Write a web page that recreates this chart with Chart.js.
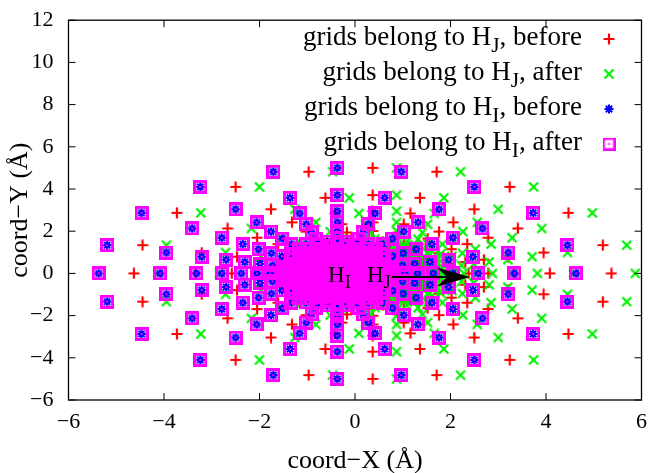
<!DOCTYPE html>
<html>
<head>
<meta charset="utf-8">
<title>grids of H_I and H_J</title>
<script src="https://cdn.jsdelivr.net/npm/chart.js@4.4.0/dist/chart.umd.min.js"></script>
<style>
  html, body { margin: 0; padding: 0; background: #fff; }
  #wrap { width: 651px; height: 473px; }
</style>
</head>
<body>
<div id="wrap"><canvas id="gridChart" width="651" height="473"></canvas></div>
<script>
// grid points, one row per radial shell (20 points each);
// the last ten rows are the packed points inside the solid core, estimated
const gridY = [
  [0, 1.34, 2.87, 4.10, 4.82, 5.00, 4.82, 4.10, 2.87, 1.34, 0, -1.34, -2.87, -4.10, -4.82, -5.00, -4.82, -4.10, -2.87, -1.34],
  [0, 0.99, 2.13, 3.04, 3.58, 3.71, 3.58, 3.04, 2.13, 0.99, 0, -0.99, -2.13, -3.04, -3.58, -3.71, -3.58, -3.04, -2.13, -0.99],
  [0, 0.79, 1.69, 2.42, 2.84, 2.95, 2.84, 2.42, 1.69, 0.79, 0, -0.79, -1.69, -2.42, -2.84, -2.95, -2.84, -2.42, -1.69, -0.79],
  [0, 0.65, 1.39, 1.98, 2.33, 2.42, 2.33, 1.98, 1.39, 0.65, 0, -0.65, -1.39, -1.98, -2.33, -2.42, -2.33, -1.98, -1.39, -0.65],
  [0, 0.54, 1.15, 1.65, 1.94, 2.01, 1.94, 1.65, 1.15, 0.54, 0, -0.54, -1.15, -1.65, -1.94, -2.01, -1.94, -1.65, -1.15, -0.54],
  [0, 0.45, 0.96, 1.38, 1.62, 1.68, 1.62, 1.38, 0.96, 0.45, 0, -0.45, -0.96, -1.38, -1.62, -1.68, -1.62, -1.38, -0.96, -0.45],
  [0, 0.38, 0.81, 1.16, 1.36, 1.41, 1.36, 1.16, 0.81, 0.38, 0, -0.38, -0.81, -1.16, -1.36, -1.41, -1.36, -1.16, -0.81, -0.38],
  [0, 0.32, 0.68, 0.97, 1.14, 1.18, 1.14, 0.97, 0.68, 0.32, 0, -0.32, -0.68, -0.97, -1.14, -1.18, -1.14, -0.97, -0.68, -0.32],
  [0, 0.26, 0.57, 0.81, 0.95, 0.99, 0.95, 0.81, 0.57, 0.26, 0, -0.26, -0.57, -0.81, -0.95, -0.99, -0.95, -0.81, -0.57, -0.26],
  [0, 0.22, 0.48, 0.68, 0.80, 0.83, 0.80, 0.68, 0.48, 0.22, 0, -0.22, -0.48, -0.68, -0.80, -0.83, -0.80, -0.68, -0.48, -0.22],
  [0, 0.18, 0.40, 0.57, 0.66, 0.69, 0.66, 0.57, 0.40, 0.18, 0, -0.18, -0.40, -0.57, -0.66, -0.69, -0.66, -0.57, -0.40, -0.18],
  [0, 0.15, 0.33, 0.47, 0.55, 0.57, 0.55, 0.47, 0.33, 0.15, 0, -0.15, -0.33, -0.47, -0.55, -0.57, -0.55, -0.47, -0.33, -0.15],
  [0, 0.12, 0.26, 0.38, 0.44, 0.46, 0.44, 0.38, 0.26, 0.12, 0, -0.12, -0.26, -0.38, -0.44, -0.46, -0.44, -0.38, -0.26, -0.12],
  [0, 0.09, 0.19, 0.27, 0.32, 0.33, 0.32, 0.27, 0.19, 0.09, 0, -0.09, -0.19, -0.27, -0.32, -0.33, -0.32, -0.27, -0.19, -0.09],
  [0, 0.05, 0.11, 0.16, 0.19, 0.20, 0.19, 0.16, 0.11, 0.05, 0, -0.05, -0.11, -0.16, -0.19, -0.20, -0.19, -0.16, -0.11, -0.05],
  [1.37, 1.51, 1.51, 1.37, -1.37, -1.51, -1.51, -1.37],
  [0.92, 1.18, 1.29, 1.29, 1.18, 0.92, -0.92, -1.18, -1.29, -1.29, -1.18, -0.92],
  [0.15, 0.46, 0.76, 0.98, 1.07, 1.07, 0.98, 0.76, 0.46, 0.15, -0.15, -0.46, -0.76, -0.98, -1.07, -1.07, -0.98, -0.76, -0.46, -0.15],
  [0.12, 0.38, 0.64, 0.81, 0.89, 0.89, 0.81, 0.64, 0.38, 0.12, -0.12, -0.38, -0.64, -0.81, -0.89, -0.89, -0.81, -0.64, -0.38, -0.12],
  [0.10, 0.32, 0.53, 0.68, 0.74, 0.74, 0.68, 0.53, 0.32, 0.10, -0.10, -0.32, -0.53, -0.68, -0.74, -0.74, -0.68, -0.53, -0.32, -0.10],
  [0.08, 0.26, 0.44, 0.56, 0.61, 0.61, 0.56, 0.44, 0.26, 0.08, -0.08, -0.26, -0.44, -0.56, -0.61, -0.61, -0.56, -0.44, -0.26, -0.08],
  [0.07, 0.21, 0.35, 0.45, 0.50, 0.50, 0.45, 0.35, 0.21, 0.07, -0.07, -0.21, -0.35, -0.45, -0.50, -0.50, -0.45, -0.35, -0.21, -0.07],
  [0.05, 0.17, 0.28, 0.35, 0.39, 0.39, 0.35, 0.28, 0.17, 0.05, -0.05, -0.17, -0.28, -0.35, -0.39, -0.39, -0.35, -0.28, -0.17, -0.05],
  [0.04, 0.12, 0.19, 0.24, 0.27, 0.27, 0.24, 0.19, 0.12, 0.04, -0.04, -0.12, -0.19, -0.24, -0.27, -0.27, -0.24, -0.19, -0.12, -0.04],
  [0.02, 0.06, 0.10, 0.13, 0.14, 0.14, 0.13, 0.10, 0.06, 0.02, -0.02, -0.06, -0.10, -0.13, -0.14, -0.14, -0.13, -0.10, -0.06, -0.02]
];

// H_I grid (same points before and after)
const hiX = [
  [4.63, 4.45, 3.73, 2.50, 0.97, -0.37, -1.71, -3.24, -4.47, -5.19, -5.37, -5.19, -4.47, -3.24, -1.71, -0.37, 0.97, 2.50, 3.73, 4.45],
  [3.34, 3.21, 2.67, 1.76, 0.62, -0.37, -1.36, -2.50, -3.41, -3.95, -4.08, -3.95, -3.41, -2.50, -1.36, -0.37, 0.62, 1.76, 2.67, 3.21],
  [2.58, 2.47, 2.05, 1.32, 0.42, -0.37, -1.16, -2.06, -2.79, -3.21, -3.32, -3.21, -2.79, -2.06, -1.16, -0.37, 0.42, 1.32, 2.05, 2.47],
  [2.05, 1.96, 1.61, 1.02, 0.28, -0.37, -1.02, -1.76, -2.35, -2.70, -2.79, -2.70, -2.35, -1.76, -1.02, -0.37, 0.28, 1.02, 1.61, 1.96],
  [1.64, 1.57, 1.28, 0.78, 0.17, -0.37, -0.91, -1.52, -2.02, -2.31, -2.38, -2.31, -2.02, -1.52, -0.91, -0.37, 0.17, 0.78, 1.28, 1.57],
  [1.31, 1.25, 1.01, 0.59, 0.08, -0.37, -0.82, -1.33, -1.75, -1.99, -2.05, -1.99, -1.75, -1.33, -0.82, -0.37, 0.08, 0.59, 1.01, 1.25],
  [1.04, 0.99, 0.79, 0.44, 0.01, -0.37, -0.75, -1.18, -1.53, -1.73, -1.78, -1.73, -1.53, -1.18, -0.75, -0.37, 0.01, 0.44, 0.79, 0.99],
  [0.81, 0.77, 0.60, 0.31, -0.05, -0.37, -0.69, -1.05, -1.34, -1.51, -1.55, -1.51, -1.34, -1.05, -0.69, -0.37, -0.05, 0.31, 0.60, 0.77],
  [0.62, 0.58, 0.44, 0.20, -0.11, -0.37, -0.63, -0.94, -1.18, -1.32, -1.36, -1.32, -1.18, -0.94, -0.63, -0.37, -0.11, 0.20, 0.44, 0.58],
  [0.46, 0.43, 0.31, 0.11, -0.15, -0.37, -0.59, -0.85, -1.05, -1.17, -1.20, -1.17, -1.05, -0.85, -0.59, -0.37, -0.15, 0.11, 0.31, 0.43],
  [0.32, 0.29, 0.20, 0.03, -0.19, -0.37, -0.55, -0.77, -0.94, -1.03, -1.06, -1.03, -0.94, -0.77, -0.55, -0.37, -0.19, 0.03, 0.20, 0.29],
  [0.20, 0.18, 0.10, -0.04, -0.22, -0.37, -0.52, -0.70, -0.84, -0.92, -0.94, -0.92, -0.84, -0.70, -0.52, -0.37, -0.22, -0.04, 0.10, 0.18],
  [0.09, 0.07, 0.01, -0.11, -0.25, -0.37, -0.49, -0.63, -0.75, -0.81, -0.83, -0.81, -0.75, -0.63, -0.49, -0.37, -0.25, -0.11, 0.01, 0.07],
  [-0.04, -0.05, -0.10, -0.18, -0.28, -0.37, -0.46, -0.56, -0.64, -0.69, -0.70, -0.69, -0.64, -0.56, -0.46, -0.37, -0.28, -0.18, -0.10, -0.05],
  [-0.17, -0.18, -0.21, -0.26, -0.32, -0.37, -0.42, -0.48, -0.53, -0.56, -0.57, -0.56, -0.53, -0.48, -0.42, -0.37, -0.32, -0.26, -0.21, -0.18],
  [0.28, -0.16, -0.58, -1.02, -1.02, -0.58, -0.16, 0.28],
  [0.55, 0.18, -0.19, -0.55, -0.92, -1.29, -1.29, -0.92, -0.55, -0.19, 0.18, 0.55],
  [0.70, 0.61, 0.39, 0.09, -0.22, -0.52, -0.83, -1.13, -1.35, -1.44, -1.44, -1.35, -1.13, -0.83, -0.52, -0.22, 0.09, 0.39, 0.61, 0.70],
  [0.52, 0.44, 0.27, 0.01, -0.25, -0.49, -0.75, -1.01, -1.18, -1.26, -1.26, -1.18, -1.01, -0.75, -0.49, -0.25, 0.01, 0.27, 0.44, 0.52],
  [0.37, 0.31, 0.16, -0.05, -0.27, -0.47, -0.69, -0.90, -1.05, -1.11, -1.11, -1.05, -0.90, -0.69, -0.47, -0.27, -0.05, 0.16, 0.31, 0.37],
  [0.24, 0.19, 0.07, -0.11, -0.29, -0.45, -0.63, -0.81, -0.93, -0.98, -0.98, -0.93, -0.81, -0.63, -0.45, -0.29, -0.11, 0.07, 0.19, 0.24],
  [0.13, 0.08, -0.02, -0.16, -0.30, -0.44, -0.58, -0.72, -0.82, -0.87, -0.87, -0.82, -0.72, -0.58, -0.44, -0.30, -0.16, -0.02, 0.08, 0.13],
  [0.02, -0.02, -0.09, -0.20, -0.32, -0.42, -0.54, -0.65, -0.72, -0.76, -0.76, -0.72, -0.65, -0.54, -0.42, -0.32, -0.20, -0.09, -0.02, 0.02],
  [-0.10, -0.13, -0.18, -0.25, -0.33, -0.41, -0.49, -0.56, -0.61, -0.64, -0.64, -0.61, -0.56, -0.49, -0.41, -0.33, -0.25, -0.18, -0.13, -0.10],
  [-0.23, -0.24, -0.27, -0.31, -0.35, -0.39, -0.43, -0.47, -0.50, -0.51, -0.51, -0.50, -0.47, -0.43, -0.39, -0.35, -0.31, -0.27, -0.24, -0.23]
];

// H_J grid, before the move
const hjBeforeX = [
  [5.37, 5.19, 4.47, 3.24, 1.71, 0.37, -0.97, -2.50, -3.73, -4.45, -4.63, -4.45, -3.73, -2.50, -0.97, 0.37, 1.71, 3.24, 4.47, 5.19],
  [4.08, 3.95, 3.41, 2.50, 1.36, 0.37, -0.62, -1.76, -2.67, -3.21, -3.34, -3.21, -2.67, -1.76, -0.62, 0.37, 1.36, 2.50, 3.41, 3.95],
  [3.32, 3.21, 2.79, 2.06, 1.16, 0.37, -0.42, -1.32, -2.05, -2.47, -2.58, -2.47, -2.05, -1.32, -0.42, 0.37, 1.16, 2.06, 2.79, 3.21],
  [2.79, 2.70, 2.35, 1.76, 1.02, 0.37, -0.28, -1.02, -1.61, -1.96, -2.05, -1.96, -1.61, -1.02, -0.28, 0.37, 1.02, 1.76, 2.35, 2.70],
  [2.38, 2.31, 2.02, 1.52, 0.91, 0.37, -0.17, -0.78, -1.28, -1.57, -1.64, -1.57, -1.28, -0.78, -0.17, 0.37, 0.91, 1.52, 2.02, 2.31],
  [2.05, 1.99, 1.75, 1.33, 0.82, 0.37, -0.08, -0.59, -1.01, -1.25, -1.31, -1.25, -1.01, -0.59, -0.08, 0.37, 0.82, 1.33, 1.75, 1.99],
  [1.78, 1.73, 1.53, 1.18, 0.75, 0.37, -0.01, -0.44, -0.79, -0.99, -1.04, -0.99, -0.79, -0.44, -0.01, 0.37, 0.75, 1.18, 1.53, 1.73],
  [1.55, 1.51, 1.34, 1.05, 0.69, 0.37, 0.05, -0.31, -0.60, -0.77, -0.81, -0.77, -0.60, -0.31, 0.05, 0.37, 0.69, 1.05, 1.34, 1.51],
  [1.36, 1.32, 1.18, 0.94, 0.63, 0.37, 0.11, -0.20, -0.44, -0.58, -0.62, -0.58, -0.44, -0.20, 0.11, 0.37, 0.63, 0.94, 1.18, 1.32],
  [1.20, 1.17, 1.05, 0.85, 0.59, 0.37, 0.15, -0.11, -0.31, -0.43, -0.46, -0.43, -0.31, -0.11, 0.15, 0.37, 0.59, 0.85, 1.05, 1.17],
  [1.06, 1.03, 0.94, 0.77, 0.55, 0.37, 0.19, -0.03, -0.20, -0.29, -0.32, -0.29, -0.20, -0.03, 0.19, 0.37, 0.55, 0.77, 0.94, 1.03],
  [0.94, 0.92, 0.84, 0.70, 0.52, 0.37, 0.22, 0.04, -0.10, -0.18, -0.20, -0.18, -0.10, 0.04, 0.22, 0.37, 0.52, 0.70, 0.84, 0.92],
  [0.83, 0.81, 0.75, 0.63, 0.49, 0.37, 0.25, 0.11, -0.01, -0.07, -0.09, -0.07, -0.01, 0.11, 0.25, 0.37, 0.49, 0.63, 0.75, 0.81],
  [0.70, 0.69, 0.64, 0.56, 0.46, 0.37, 0.28, 0.18, 0.10, 0.05, 0.04, 0.05, 0.10, 0.18, 0.28, 0.37, 0.46, 0.56, 0.64, 0.69],
  [0.57, 0.56, 0.53, 0.48, 0.42, 0.37, 0.32, 0.26, 0.21, 0.18, 0.17, 0.18, 0.21, 0.26, 0.32, 0.37, 0.42, 0.48, 0.53, 0.56],
  [1.02, 0.58, 0.16, -0.28, -0.28, 0.16, 0.58, 1.02],
  [1.29, 0.92, 0.55, 0.19, -0.18, -0.55, -0.55, -0.18, 0.19, 0.55, 0.92, 1.29],
  [1.44, 1.35, 1.13, 0.83, 0.52, 0.22, -0.09, -0.39, -0.61, -0.70, -0.70, -0.61, -0.39, -0.09, 0.22, 0.52, 0.83, 1.13, 1.35, 1.44],
  [1.26, 1.18, 1.01, 0.75, 0.49, 0.25, -0.01, -0.27, -0.44, -0.52, -0.52, -0.44, -0.27, -0.01, 0.25, 0.49, 0.75, 1.01, 1.18, 1.26],
  [1.11, 1.05, 0.90, 0.69, 0.47, 0.27, 0.05, -0.16, -0.31, -0.37, -0.37, -0.31, -0.16, 0.05, 0.27, 0.47, 0.69, 0.90, 1.05, 1.11],
  [0.98, 0.93, 0.81, 0.63, 0.45, 0.29, 0.11, -0.07, -0.19, -0.24, -0.24, -0.19, -0.07, 0.11, 0.29, 0.45, 0.63, 0.81, 0.93, 0.98],
  [0.87, 0.82, 0.72, 0.58, 0.44, 0.30, 0.16, 0.02, -0.08, -0.13, -0.13, -0.08, 0.02, 0.16, 0.30, 0.44, 0.58, 0.72, 0.82, 0.87],
  [0.76, 0.72, 0.65, 0.54, 0.42, 0.32, 0.20, 0.09, 0.02, -0.02, -0.02, 0.02, 0.09, 0.20, 0.32, 0.42, 0.54, 0.65, 0.72, 0.76],
  [0.64, 0.61, 0.56, 0.49, 0.41, 0.33, 0.25, 0.18, 0.13, 0.10, 0.10, 0.13, 0.18, 0.25, 0.33, 0.41, 0.49, 0.56, 0.61, 0.64],
  [0.51, 0.50, 0.47, 0.43, 0.39, 0.35, 0.31, 0.27, 0.24, 0.23, 0.23, 0.24, 0.27, 0.31, 0.35, 0.39, 0.43, 0.47, 0.50, 0.51]
];

// H_J grid, after the move
const hjAfterX = [
  [5.87, 5.69, 4.97, 3.74, 2.21, 0.87, -0.47, -2.00, -3.23, -3.95, -4.13, -3.95, -3.23, -2.00, -0.47, 0.87, 2.21, 3.74, 4.97, 5.69],
  [4.58, 4.45, 3.91, 3.00, 1.86, 0.87, -0.12, -1.26, -2.17, -2.71, -2.84, -2.71, -2.17, -1.26, -0.12, 0.87, 1.86, 3.00, 3.91, 4.45],
  [3.82, 3.71, 3.29, 2.56, 1.66, 0.87, 0.08, -0.82, -1.55, -1.97, -2.08, -1.97, -1.55, -0.82, 0.08, 0.87, 1.66, 2.56, 3.29, 3.71],
  [3.29, 3.20, 2.85, 2.26, 1.52, 0.87, 0.22, -0.52, -1.11, -1.46, -1.55, -1.46, -1.11, -0.52, 0.22, 0.87, 1.52, 2.26, 2.85, 3.20],
  [2.88, 2.81, 2.52, 2.02, 1.41, 0.87, 0.33, -0.28, -0.78, -1.07, -1.14, -1.07, -0.78, -0.28, 0.33, 0.87, 1.41, 2.02, 2.52, 2.81],
  [2.55, 2.49, 2.25, 1.83, 1.32, 0.87, 0.42, -0.09, -0.51, -0.75, -0.81, -0.75, -0.51, -0.09, 0.42, 0.87, 1.32, 1.83, 2.25, 2.49],
  [2.28, 2.23, 2.03, 1.68, 1.25, 0.87, 0.49, 0.06, -0.29, -0.49, -0.54, -0.49, -0.29, 0.06, 0.49, 0.87, 1.25, 1.68, 2.03, 2.23],
  [2.05, 2.01, 1.84, 1.55, 1.19, 0.87, 0.55, 0.19, -0.10, -0.27, -0.31, -0.27, -0.10, 0.19, 0.55, 0.87, 1.19, 1.55, 1.84, 2.01],
  [1.86, 1.82, 1.68, 1.44, 1.13, 0.87, 0.61, 0.30, 0.06, -0.08, -0.12, -0.08, 0.06, 0.30, 0.61, 0.87, 1.13, 1.44, 1.68, 1.82],
  [1.70, 1.67, 1.55, 1.35, 1.09, 0.87, 0.65, 0.39, 0.19, 0.07, 0.04, 0.07, 0.19, 0.39, 0.65, 0.87, 1.09, 1.35, 1.55, 1.67],
  [1.56, 1.53, 1.44, 1.27, 1.05, 0.87, 0.69, 0.47, 0.30, 0.21, 0.18, 0.21, 0.30, 0.47, 0.69, 0.87, 1.05, 1.27, 1.44, 1.53],
  [1.44, 1.42, 1.34, 1.20, 1.02, 0.87, 0.72, 0.54, 0.40, 0.32, 0.30, 0.32, 0.40, 0.54, 0.72, 0.87, 1.02, 1.20, 1.34, 1.42],
  [1.33, 1.31, 1.25, 1.13, 0.99, 0.87, 0.75, 0.61, 0.49, 0.43, 0.41, 0.43, 0.49, 0.61, 0.75, 0.87, 0.99, 1.13, 1.25, 1.31],
  [1.20, 1.19, 1.14, 1.06, 0.96, 0.87, 0.78, 0.68, 0.60, 0.55, 0.54, 0.55, 0.60, 0.68, 0.78, 0.87, 0.96, 1.06, 1.14, 1.19],
  [1.07, 1.06, 1.03, 0.98, 0.92, 0.87, 0.82, 0.76, 0.71, 0.68, 0.67, 0.68, 0.71, 0.76, 0.82, 0.87, 0.92, 0.98, 1.03, 1.06],
  [1.52, 1.08, 0.66, 0.22, 0.22, 0.66, 1.08, 1.52],
  [1.79, 1.42, 1.05, 0.69, 0.32, -0.05, -0.05, 0.32, 0.69, 1.05, 1.42, 1.79],
  [1.94, 1.85, 1.63, 1.33, 1.02, 0.72, 0.41, 0.11, -0.11, -0.20, -0.20, -0.11, 0.11, 0.41, 0.72, 1.02, 1.33, 1.63, 1.85, 1.94],
  [1.76, 1.68, 1.51, 1.25, 0.99, 0.75, 0.49, 0.23, 0.06, -0.02, -0.02, 0.06, 0.23, 0.49, 0.75, 0.99, 1.25, 1.51, 1.68, 1.76],
  [1.61, 1.55, 1.40, 1.19, 0.97, 0.77, 0.55, 0.34, 0.19, 0.13, 0.13, 0.19, 0.34, 0.55, 0.77, 0.97, 1.19, 1.40, 1.55, 1.61],
  [1.48, 1.43, 1.31, 1.13, 0.95, 0.79, 0.61, 0.43, 0.31, 0.26, 0.26, 0.31, 0.43, 0.61, 0.79, 0.95, 1.13, 1.31, 1.43, 1.48],
  [1.37, 1.32, 1.22, 1.08, 0.94, 0.80, 0.66, 0.52, 0.42, 0.37, 0.37, 0.42, 0.52, 0.66, 0.80, 0.94, 1.08, 1.22, 1.32, 1.37],
  [1.26, 1.22, 1.15, 1.04, 0.92, 0.82, 0.70, 0.59, 0.52, 0.48, 0.48, 0.52, 0.59, 0.70, 0.82, 0.92, 1.04, 1.15, 1.22, 1.26],
  [1.14, 1.11, 1.06, 0.99, 0.91, 0.83, 0.75, 0.68, 0.63, 0.60, 0.60, 0.63, 0.68, 0.75, 0.83, 0.91, 0.99, 1.06, 1.11, 1.14],
  [1.01, 1.00, 0.97, 0.93, 0.89, 0.85, 0.81, 0.77, 0.74, 0.73, 0.73, 0.74, 0.77, 0.81, 0.85, 0.89, 0.93, 0.97, 1.00, 1.01]
];

const legendMain = ["grids belong to H", "grids belong to H", "grids belong to H", "grids belong to H"];
const legendSub = ["J", "J", "I", "I"];
const legendTail = [", before", ", after", ", before", ", after"];

// atom labels and the displacement arrow, in data units
const atomLabelX = [-0.565, 0.25];
const atomLabelY = [-0.42, -0.42];
const atomSub = ["I", "J"];
const arrowFrom = [0.77, -0.17];
const arrowTo = [2.41, -0.17];

const SERIF = "'Liberation Serif', 'Times New Roman', serif";

function toPoints(xs, ys) {
  const flatX = xs.flat();
  const flatY = ys.flat();
  return flatX.map((x, i) => ({ x, y: flatY[i] }));
}

function makeMarker(size, draw) {
  const c = document.createElement("canvas");
  c.width = size;
  c.height = size;
  draw(c.getContext("2d"), size);
  return c;
}

const plusMark = makeMarker(12, g => {
  g.strokeStyle = "#ff0000";
  g.lineWidth = 2.2;
  g.beginPath();
  g.moveTo(0.5, 6); g.lineTo(11.5, 6);
  g.moveTo(6, 0.5); g.lineTo(6, 11.5);
  g.stroke();
});

const crossMark = makeMarker(12, g => {
  g.strokeStyle = "#00f000";
  g.lineWidth = 2.2;
  g.beginPath();
  g.moveTo(1.5, 1.5); g.lineTo(10.5, 10.5);
  g.moveTo(10.5, 1.5); g.lineTo(1.5, 10.5);
  g.stroke();
});

const starMark = makeMarker(10, g => {
  g.strokeStyle = "#0000ff";
  g.lineWidth = 2;
  g.beginPath();
  g.moveTo(0.5, 5); g.lineTo(9.5, 5);
  g.moveTo(5, 0.5); g.lineTo(5, 9.5);
  g.moveTo(1.8, 1.8); g.lineTo(8.2, 8.2);
  g.moveTo(8.2, 1.8); g.lineTo(1.8, 8.2);
  g.stroke();
});

// plot symbol: thick box with a centre dot
const boxMark = makeMarker(14, g => {
  g.strokeStyle = "#ff00ff";
  g.lineWidth = 3;
  g.strokeRect(1.5, 1.5, 11, 11);
  g.fillStyle = "#ff00ff";
  g.fillRect(6, 6, 2, 2);
});

// key symbol: thinner box
const boxKey = makeMarker(13, g => {
  g.strokeStyle = "#ff00ff";
  g.lineWidth = 2.4;
  g.strokeRect(1.2, 1.2, 10.6, 10.6);
  g.fillStyle = "#ff00ff";
  g.fillRect(5.5, 5.5, 2, 2);
});

const legendMarks = [plusMark, crossMark, starMark, boxKey];

function drawSubText(ctx, x, y, main, sub, tail, size, alignRight) {
  const subSize = size * 0.8;
  ctx.font = size + "px " + SERIF;
  const w1 = ctx.measureText(main).width;
  const w3 = ctx.measureText(tail).width;
  ctx.font = subSize + "px " + SERIF;
  const w2 = ctx.measureText(sub).width;
  const left = alignRight ? x - (w1 + w2 + w3) : x;
  ctx.textAlign = "left";
  ctx.textBaseline = "alphabetic";
  ctx.fillStyle = "#000";
  ctx.font = size + "px " + SERIF;
  ctx.fillText(main, left, y);
  ctx.font = subSize + "px " + SERIF;
  ctx.fillText(sub, left + w1, y + size * 0.27);
  ctx.font = size + "px " + SERIF;
  if (tail) ctx.fillText(tail, left + w1 + w2, y);
}

const decorations = {
  id: "decorations",
  afterDatasetsDraw(chart) {
    const { ctx, chartArea: a, scales: { x, y } } = chart;
    ctx.save();

    // atom labels
    for (let i = 0; i < atomSub.length; i++) {
      drawSubText(ctx, x.getPixelForValue(atomLabelX[i]), y.getPixelForValue(atomLabelY[i]),
        "H", atomSub[i], "", 23, false);
    }

    // arrow
    const x0 = x.getPixelForValue(arrowFrom[0]);
    const y0 = y.getPixelForValue(arrowFrom[1]);
    const x1 = x.getPixelForValue(arrowTo[0]);
    const y1 = y.getPixelForValue(arrowTo[1]);
    ctx.strokeStyle = "#000";
    ctx.fillStyle = "#000";
    ctx.lineWidth = 1.8;
    ctx.beginPath();
    ctx.moveTo(x0, y0);
    ctx.lineTo(x1 - 20, y1);
    ctx.stroke();
    ctx.beginPath();
    ctx.moveTo(x1, y1);
    ctx.lineTo(x1 - 33, y1 - 9.5);
    ctx.lineTo(x1 - 23, y1);
    ctx.lineTo(x1 - 33, y1 + 9.5);
    ctx.closePath();
    ctx.fill();

    // frame and inward ticks on all four sides
    ctx.lineWidth = 1.3;
    ctx.strokeRect(a.left, a.top, a.right - a.left, a.bottom - a.top);
    ctx.lineWidth = 1;
    ctx.beginPath();
    x.ticks.forEach(t => {
      const px = x.getPixelForValue(t.value);
      ctx.moveTo(px, a.bottom); ctx.lineTo(px, a.bottom - 7);
      ctx.moveTo(px, a.top); ctx.lineTo(px, a.top + 7);
    });
    y.ticks.forEach(t => {
      const py = y.getPixelForValue(t.value);
      ctx.moveTo(a.left, py); ctx.lineTo(a.left + 7, py);
      ctx.moveTo(a.right, py); ctx.lineTo(a.right - 7, py);
    });
    ctx.stroke();

    // key, text on the left and symbol on the right
    for (let i = 0; i < legendMain.length; i++) {
      const base = 45 + 35 * i;
      drawSubText(ctx, 582, base, legendMain[i], legendSub[i], legendTail[i], 27, true);
      const m = legendMarks[i];
      ctx.drawImage(m, 609 - m.width / 2, base - 6 - m.height / 2);
    }
    ctx.restore();
  }
};

const minusTick = v => String(v).replace("-", "\u2212");

new Chart(document.getElementById("gridChart"), {
  type: "scatter",
  data: {
    datasets: [
      { label: "grids belong to H_J, before", data: toPoints(hjBeforeX, gridY), pointStyle: plusMark, order: 4 },
      { label: "grids belong to H_J, after", data: toPoints(hjAfterX, gridY), pointStyle: crossMark, order: 3 },
      { label: "grids belong to H_I, before", data: toPoints(hiX, gridY), pointStyle: starMark, order: 2 },
      { label: "grids belong to H_I, after", data: toPoints(hiX, gridY), pointStyle: boxMark, order: 1 }
    ].map(d => Object.assign(d, { clip: false, pointRadius: 6 }))
  },
  options: {
    responsive: false,
    animation: false,
    events: [],
    layout: { padding: { left: 0, right: 9.5, top: 15.5, bottom: 0 } },
    plugins: { legend: { display: false }, tooltip: { enabled: false } },
    scales: {
      x: {
        type: "linear",
        min: -6, max: 6,
        grid: { display: false },
        border: { display: false },
        ticks: { stepSize: 2, color: "#000", padding: 1, font: { family: SERIF, size: 22 }, callback: minusTick },
        title: { display: true, text: "coord\u2212X (\u00c5)", color: "#000", font: { family: SERIF, size: 26 }, padding: { top: 0, bottom: -4 } },
        afterFit: s => { s.height = 73; }
      },
      y: {
        type: "linear",
        min: -6, max: 12,
        grid: { display: false },
        border: { display: false },
        ticks: { stepSize: 2, color: "#000", padding: 7, font: { family: SERIF, size: 22 }, callback: minusTick },
        title: { display: true, text: "coord\u2212Y (\u00c5)", color: "#000", font: { family: SERIF, size: 26 }, padding: { top: 5, bottom: 0 } },
        afterFit: s => { s.width = 68.5; }
      }
    }
  },
  plugins: [decorations]
});
</script>
</body>
</html>
